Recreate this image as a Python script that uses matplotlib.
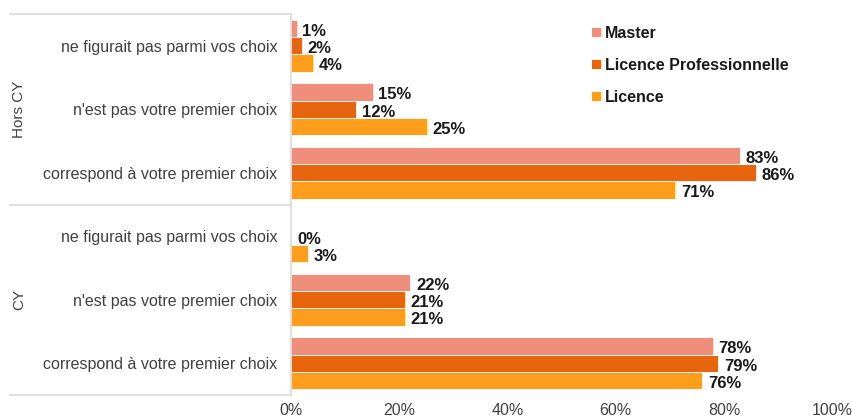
import numpy as np
import matplotlib
matplotlib.use("Agg")
import matplotlib.pyplot as plt
from matplotlib.transforms import blended_transform_factory
from matplotlib.lines import Line2D

plt.rcParams['font.family'] = ['Liberation Sans', 'DejaVu Sans']

groups = ["Hors CY", "CY"]
categories = ["ne figurait pas parmi vos choix",
              "n'est pas votre premier choix",
              "correspond à votre premier choix"]
series = ["Master", "Licence Professionnelle", "Licence"]
# values per series, rows in order: Hors CY (3 categories), CY (3 categories)
master = [1, 15, 83, None, 22, 78]
licence_pro = [2, 12, 86, 0, 21, 79]
licence = [4, 25, 71, 3, 21, 76]
xticks = [0, 20, 40, 60, 80, 100]
xtick_labels = ["0%", "20%", "40%", "60%", "80%", "100%"]

colors = ["#F08E7C", "#E8650F", "#FE9E1C"]
data = [master, licence_pro, licence]

W, H = 853, 420
fig = plt.figure(figsize=(W / 100, H / 100), dpi=100)
left, right, top, bottom = 291.5 / W, 832 / W, 1 - 14 / H, 1 - 395 / H
ax = fig.add_axes([left, bottom, right - left, top - bottom])

n_rows = len(groups) * len(categories)
y = np.arange(n_rows)
bh = 0.273
offsets = [-bh, 0, bh]

for vals, col, off, name in zip(data, colors, offsets, series):
    ys = [yy + off for yy, v in zip(y, vals) if v is not None]
    vs = [v for v in vals if v is not None]
    ax.barh(ys, vs, height=bh, color=col, edgecolor="white", linewidth=0.6, label=name)
    for yy, v in zip(ys, vs):
        ax.annotate(f"{v}%", xy=(v, yy), xytext=(4, -2), textcoords="offset points",
                    ha="left", va="center", fontsize=12, fontweight="bold", color="#1a1a1a")

ax.set_xlim(0, 100)
ax.set_ylim(n_rows - 0.5, -0.5)
ax.set_xticks(xticks)
ax.set_xticklabels(xtick_labels, fontsize=11.5, color="#404040")
ax.tick_params(axis="x", length=0, pad=6)
ax.set_yticks(y)
ax.set_yticklabels(categories * len(groups), fontsize=11.5, color="#404040")
ax.tick_params(axis="y", length=0, pad=10)
for s in ["top", "right", "bottom"]:
    ax.spines[s].set_visible(False)
ax.spines["left"].set_color("#D9D9D9")
ax.spines["left"].set_linewidth(1.2)

# group separator lines and group labels
tr = blended_transform_factory(fig.transFigure, ax.transData)
for yl in [-0.5, 2.5, 5.5]:
    ln = Line2D([10 / W, left], [yl, yl], transform=tr, color="#D9D9D9", lw=1.2, clip_on=False)
    fig.add_artist(ln)
for i, g in enumerate(groups):
    fig.text(19 / W, 0, g, transform=tr, rotation=90, ha="center", va="center",
             fontsize=11, color="#404040")
    fig.texts[-1].set_y(i * 3 + 1)

leg = fig.legend(loc="upper left", bbox_to_anchor=(591 / W, 1 - 26 / H), frameon=False,
                 prop={"size": 11.5, "weight": "bold"}, handlelength=0.6, handleheight=0.6,
                 handletextpad=0.3, labelspacing=1.05, borderpad=0, borderaxespad=0)
for t in leg.get_texts():
    t.set_color("#1a1a1a")

fig.savefig("out.png", dpi=100)
